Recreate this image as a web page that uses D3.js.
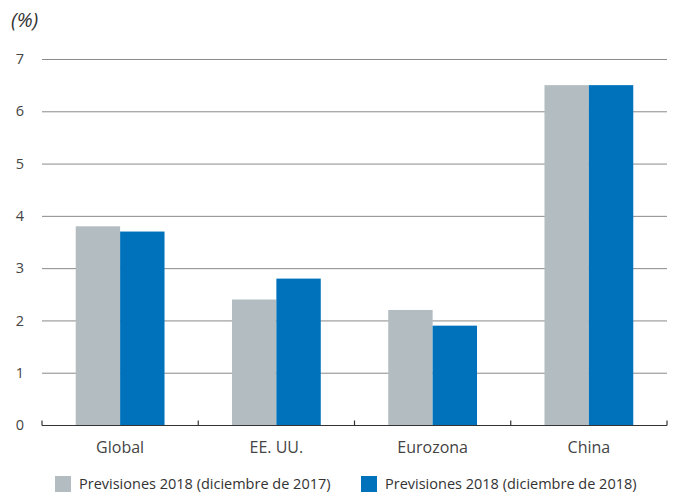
<!DOCTYPE html>
<html>
<head>
<meta charset="utf-8">
<script src="https://cdn.jsdelivr.net/npm/d3@7"></script>
<style>
  body { margin: 0; background: #fff; }
  svg { display: block; font-family: "Open Sans", "Noto Sans", sans-serif; }
</style>
</head>
<body>
<svg id="chart" width="675" height="496"></svg>
<script>
const categories = ["Global", "EE. UU.", "Eurozona", "China"];
const seriesNames = ["Previsiones 2018 (diciembre de 2017)", "Previsiones 2018 (diciembre de 2018)"];
const dec2017 = [3.8, 2.4, 2.2, 6.5];
const dec2018 = [3.7, 2.8, 1.9, 6.5];
const yTicks = [0, 1, 2, 3, 4, 5, 6, 7];
const colors = ["#b3bdc1", "#0072bb"];

const svg = d3.select("#chart");
const margin = { top: 59, right: 8, bottom: 71, left: 42 };
const W = 675, H = 496;

const x = d3.scaleBand()
  .domain(categories)
  .range([margin.left, W - margin.right])
  .padding(0);

const inner = d3.scaleBand()
  .domain([0, 1])
  .range([0, x.bandwidth()])
  .paddingInner(0)
  .paddingOuter(0.76);

const y = d3.scaleLinear().domain([0, 7]).range([H - margin.bottom, margin.top]);

// gridlines
svg.append("g")
  .selectAll("line")
  .data(yTicks.filter(d => d > 0))
  .enter()
  .append("line")
  .attr("x1", margin.left)
  .attr("x2", W - margin.right)
  .attr("y1", d => y(d) + 0.5)
  .attr("y2", d => y(d) + 0.5)
  .attr("stroke", "#8a8a8a")
  .attr("stroke-width", 1);

// y labels
svg.append("g")
  .selectAll("text")
  .data(yTicks)
  .enter()
  .append("text")
  .attr("x", 24)
  .attr("y", d => y(d))
  .attr("dy", "0.35em")
  .attr("text-anchor", "end")
  .attr("font-size", 14.5)
  .attr("fill", "#444")
  .text(d => d);

// bars
const rows = categories.map((c, i) => ({ cat: c, vals: [dec2017[i], dec2018[i]] }));
const groups = svg.append("g")
  .selectAll("g")
  .data(rows)
  .enter()
  .append("g")
  .attr("transform", d => `translate(${x(d.cat)},0)`);

groups.selectAll("rect")
  .data(d => d.vals.map((v, k) => ({ v, k })))
  .enter()
  .append("rect")
  .attr("x", d => inner(d.k))
  .attr("width", inner.bandwidth())
  .attr("y", d => y(d.v))
  .attr("height", d => y(0) - y(d.v))
  .attr("fill", d => colors[d.k]);

// x axis baseline with upward ticks at category boundaries
const base = y(0) + 0.5;
svg.append("line")
  .attr("x1", margin.left)
  .attr("x2", W - margin.right)
  .attr("y1", base)
  .attr("y2", base)
  .attr("stroke", "#333")
  .attr("stroke-width", 1.2);

const bounds = categories.map(c => x(c)).concat([x(categories[categories.length - 1]) + x.bandwidth()]);
svg.append("g")
  .selectAll("line")
  .data(bounds)
  .enter()
  .append("line")
  .attr("x1", d => d)
  .attr("x2", d => d)
  .attr("y1", base)
  .attr("y2", base - 5)
  .attr("stroke", "#333")
  .attr("stroke-width", 1.2);

// category labels
svg.append("g")
  .selectAll("text")
  .data(categories)
  .enter()
  .append("text")
  .attr("x", d => x(d) + x.bandwidth() / 2)
  .attr("y", 453)
  .attr("text-anchor", "middle")
  .attr("font-size", 16)
  .attr("fill", "#444")
  .text(d => d);

// unit label
svg.append("text")
  .attr("x", 11)
  .attr("y", 27)
  .attr("font-size", 20)
  .attr("font-style", "italic")
  .attr("fill", "#333")
  .text("(%)");

// legend
const legendX = [55, 361];
const lg = svg.append("g")
  .selectAll("g")
  .data(seriesNames)
  .enter()
  .append("g")
  .attr("transform", (d, i) => `translate(${legendX[i]},476)`);

lg.append("rect")
  .attr("width", 16)
  .attr("height", 16)
  .attr("fill", (d, i) => colors[i]);

lg.append("text")
  .attr("x", 24)
  .attr("y", 13)
  .attr("font-size", 14.5)
  .attr("fill", "#333")
  .text(d => d);
</script>
</body>
</html>
